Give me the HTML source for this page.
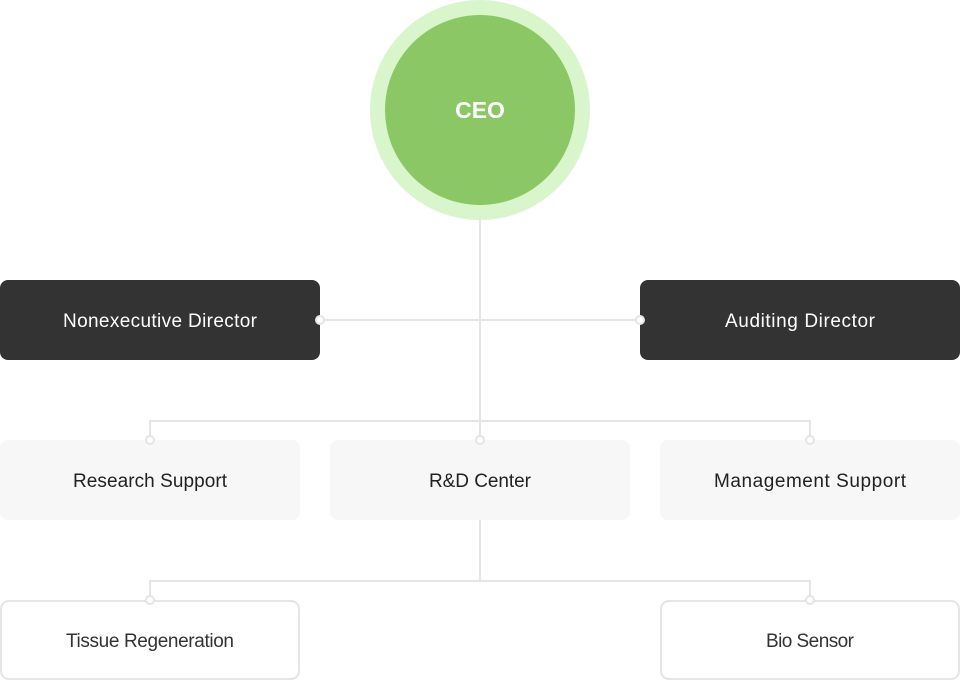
<!DOCTYPE html>
<html><head><meta charset="utf-8"><style>
body{margin:0;background:#fff;width:960px;height:680px;overflow:hidden}
</style></head><body>
<svg width="960" height="680" xmlns="http://www.w3.org/2000/svg" font-family="Liberation Sans, sans-serif">
<circle cx="480" cy="110" r="110" fill="#d9f5cc"/>
<circle cx="480" cy="110" r="95" fill="#8cc765"/>
<text x="480" y="118" text-anchor="middle" font-size="23" font-weight="bold" fill="#fff">CEO</text>
<g stroke="#e5e5e5" stroke-width="2" fill="none">
<line x1="480" y1="220" x2="480" y2="440"/>
<line x1="320" y1="320" x2="640" y2="320"/>
<polyline points="150,440 150,421 810,421 810,440"/>
<line x1="480" y1="520" x2="480" y2="581"/>
<polyline points="150,600 150,581 810,581 810,600"/>
</g>
<rect x="0" y="280" width="320" height="80" rx="8" fill="#333"/>
<rect x="640" y="280" width="320" height="80" rx="8" fill="#333"/>
<text x="160" y="327" text-anchor="middle" font-size="19" textLength="194" fill="#fff">Nonexecutive Director</text>
<text x="800" y="327" text-anchor="middle" font-size="19" textLength="150" fill="#fff">Auditing Director</text>
<rect x="0" y="440" width="300" height="80" rx="8" fill="#f7f7f7"/>
<rect x="330" y="440" width="300" height="80" rx="8" fill="#f7f7f7"/>
<rect x="660" y="440" width="300" height="80" rx="8" fill="#f7f7f7"/>
<text x="150" y="487" text-anchor="middle" font-size="19" textLength="154" fill="#222">Research Support</text>
<text x="480" y="487" text-anchor="middle" font-size="19" textLength="102" fill="#222">R&amp;D Center</text>
<text x="810" y="487" text-anchor="middle" font-size="19" textLength="192" fill="#222">Management Support</text>
<rect x="1" y="601" width="298" height="78" rx="8" fill="#fff" stroke="#e5e5e5" stroke-width="2"/>
<rect x="661" y="601" width="298" height="78" rx="8" fill="#fff" stroke="#e5e5e5" stroke-width="2"/>
<text x="150" y="647" text-anchor="middle" font-size="19" textLength="168" fill="#333">Tissue Regeneration</text>
<text x="810" y="647" text-anchor="middle" font-size="19" textLength="88" fill="#333">Bio Sensor</text>
<g fill="#fff" stroke="#e5e5e5" stroke-width="2">
<circle cx="320" cy="320" r="4"/><circle cx="640" cy="320" r="4"/>
<circle cx="150" cy="440" r="4"/><circle cx="480" cy="440" r="4"/><circle cx="810" cy="440" r="4"/>
<circle cx="150" cy="600" r="4"/><circle cx="810" cy="600" r="4"/>
</g>
</svg>
</body></html>
